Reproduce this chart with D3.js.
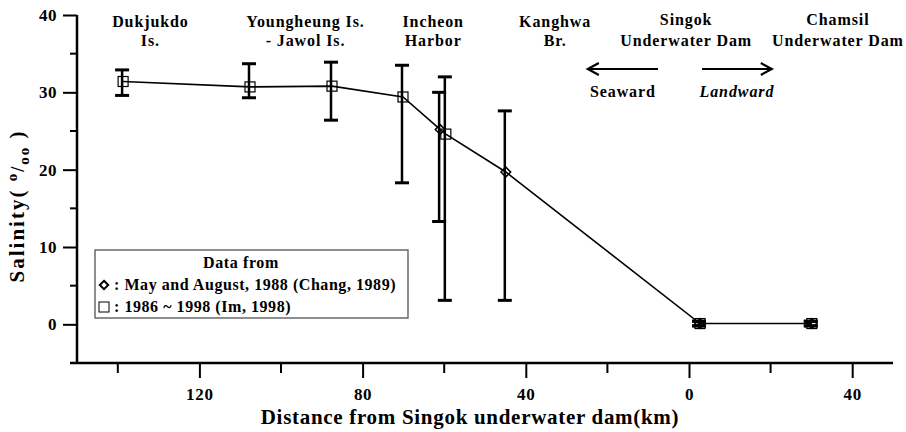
<!DOCTYPE html>
<html>
<head>
<meta charset="utf-8">
<script src="https://cdn.jsdelivr.net/npm/d3@7"></script>
<style>
  body { margin: 0; background: #fff; }
  svg text { font-family: "Liberation Serif", "Times New Roman", Times, "DejaVu Serif", serif !important; font-weight: bold; fill: #000; }
</style>
</head>
<body>
<div id="chart"></div>
<script>
// Im (1998) data, squares - distance seaward from Singok dam (km), negative = landward
var imDist = [138.7, 107.6, 87.5, 70.1, 59.6, -2.7, -30.1];
var imSal = [31.4, 30.7, 30.8, 29.4, 24.6, 0.1, 0.1];
var imHi = [32.9, 33.7, 33.9, 33.5, 32.0, 0.4, 0.4];
var imLo = [29.6, 29.3, 26.4, 18.3, 3.1, -0.2, -0.2];

// Chang (1989) data, diamonds
var changDist = [61.0, 44.9, -2.7, -30.1];
var changSal = [25.2, 19.7, 0.1, 0.1];
var changHi = [30.0, 27.6, 0.4, 0.4];
var changLo = [13.3, 3.1, -0.2, -0.2];

var yTicks = [0, 10, 20, 30, 40];
var yMinor = [-5, 5, 15, 25, 35];
var xTicks = [120, 80, 40, 0, -40];
var xMinor = [140, 100, 60, 20, -20];

// place names on top, with position (km)
var siteNames = [
  ["Dukjukdo", "Is."],
  ["Youngheung Is.", "- Jawol Is."],
  ["Incheon", "Harbor"],
  ["Kanghwa", "Br."],
  ["Singok", "Underwater Dam"],
  ["Chamsil", "Underwater Dam"]
];
var siteKm = [132, 94, 62.7, 32.8, 0.7, -36.5];

var width = 906, height = 432;
var svg = d3.select("#chart").append("svg").attr("width", width).attr("height", height);

var x = d3.scaleLinear().domain([150, -50]).range([77, 893]);
var y = d3.scaleLinear().domain([-5, 40]).range([363, 15]);

// axes
var yAxis = d3.axisLeft(y).tickValues(yTicks).tickSize(14).tickPadding(6).tickFormat(d3.format("d"));
var gy = svg.append("g").attr("transform", "translate(77,0)").call(yAxis);
gy.select(".domain").remove();
gy.selectAll(".tick line").attr("stroke-width", 2);
gy.selectAll(".tick text").style("font-size", "17px").style("letter-spacing", "0.5px");
gy.selectAll(".minor").data(yMinor).enter().append("line")
  .attr("x1", -7).attr("x2", 0).attr("y1", d => y(d)).attr("y2", d => y(d))
  .attr("stroke", "#000").attr("stroke-width", 2);
svg.append("line").attr("x1", 77).attr("x2", 77).attr("y1", 15).attr("y2", 364)
  .attr("stroke", "#000").attr("stroke-width", 2.5);

var xAxis = d3.axisBottom(x).tickValues(xTicks).tickSize(15).tickPadding(10).tickFormat(d => Math.abs(d));
var gx = svg.append("g").attr("transform", "translate(0,363)").call(xAxis);
gx.select(".domain").remove();
gx.selectAll(".tick line").attr("stroke-width", 2);
gx.selectAll(".tick text").style("font-size", "17px").style("letter-spacing", "0.7px");
gx.selectAll(".minor").data(xMinor).enter().append("line")
  .attr("x1", d => x(d)).attr("x2", d => x(d)).attr("y1", 0).attr("y2", 10)
  .attr("stroke", "#000").attr("stroke-width", 2);
svg.append("line").attr("x1", 70).attr("x2", 893).attr("y1", 363).attr("y2", 363)
  .attr("stroke", "#000").attr("stroke-width", 2.5);

// axis titles
svg.append("text").attr("x", 470).attr("y", 424).attr("text-anchor", "middle")
  .style("font-size", "21px").style("letter-spacing", "0.7px")
  .text("Distance from Singok underwater dam(km)");

var yt = svg.append("text").attr("transform", "translate(24,206) rotate(-90)").attr("text-anchor", "middle")
  .style("font-size", "21px").style("letter-spacing", "2px");
yt.append("tspan").text("Salinity( ");
yt.append("tspan").attr("dy", -7).style("font-size", "15px").text("o");
yt.append("tspan").attr("dy", 7).style("font-size", "18px").text("/");
yt.append("tspan").attr("dy", 5).style("font-size", "15px").text("oo");
yt.append("tspan").attr("dy", -5).text(" )");

// connecting line through all points
var pts = imDist.map((d, i) => [d, imSal[i]]).concat(changDist.map((d, i) => [d, changSal[i]]));
pts.sort((a, b) => b[0] - a[0]);
var line = d3.line().x(d => x(d[0])).y(d => y(d[1]));
svg.append("path").datum(pts).attr("d", line).attr("fill", "none")
  .attr("stroke", "#000").attr("stroke-width", 1.6);

// error bars
function errorBars(dist, hi, lo, dx) {
  var g = svg.append("g");
  dist.forEach(function (d, i) {
    var cx = x(d) + dx;
    g.append("line").attr("x1", cx).attr("x2", cx).attr("y1", y(hi[i])).attr("y2", y(lo[i]))
      .attr("stroke", "#000").attr("stroke-width", 2.5);
    [hi[i], lo[i]].forEach(function (v) {
      g.append("line").attr("x1", cx - 7).attr("x2", cx + 7).attr("y1", y(v)).attr("y2", y(v))
        .attr("stroke", "#000").attr("stroke-width", 3);
    });
  });
}
errorBars(imDist, imHi, imLo, -1);
errorBars(changDist, changHi, changLo, -1);

// markers
svg.append("g").selectAll("rect").data(imDist).enter().append("rect")
  .attr("x", d => x(d) - 5).attr("y", (d, i) => y(imSal[i]) - 5)
  .attr("width", 10).attr("height", 10)
  .attr("fill", "none").attr("stroke", "#000").attr("stroke-width", 1.2);
var diamond = d3.symbol().type(d3.symbolDiamond2).size(60);
svg.append("g").selectAll("path").data(changDist).enter().append("path")
  .attr("d", diamond)
  .attr("transform", (d, i) => "translate(" + x(d) + "," + y(changSal[i]) + ")")
  .attr("fill", "none").attr("stroke", "#000").attr("stroke-width", 1.5);

// place names
siteNames.forEach(function (s, i) {
  var t = svg.append("text").attr("text-anchor", "middle").style("font-size", "16px").style("letter-spacing", "0.9px");
  t.append("tspan").attr("x", x(siteKm[i])).attr("y", i >= 4 ? 25 : 27).text(s[0]);
  t.append("tspan").attr("x", x(siteKm[i])).attr("y", 46).text(s[1]);
});

// seaward / landward arrows
var arrows = [[7.6, 24.8, "Seaward", "normal"], [-3.2, -20.3, "Landward", "italic"]];
arrows.forEach(function (a) {
  var x1 = x(a[0]), x2 = x(a[1]), ya = 69;
  var dir = x2 > x1 ? 1 : -1;
  svg.append("line").attr("x1", x1).attr("x2", x2).attr("y1", ya).attr("y2", ya)
    .attr("stroke", "#000").attr("stroke-width", 2.2);
  svg.append("path").attr("d", "M" + (x2 - dir * 11) + "," + (ya - 6) + "L" + x2 + "," + ya + "L" + (x2 - dir * 11) + "," + (ya + 6))
    .attr("fill", "none").attr("stroke", "#000").attr("stroke-width", 2.2);
  svg.append("text").attr("x", (x1 + x2) / 2).attr("y", 97).attr("text-anchor", "middle")
    .style("font-size", "16px").style("letter-spacing", "0.9px").style("font-style", a[3]).text(a[2]);
});

// legend
var lg = svg.append("g");
lg.append("rect").attr("x", 95).attr("y", 250).attr("width", 313).attr("height", 68)
  .attr("fill", "#fff").attr("stroke", "#444").attr("stroke-width", 1.2);
lg.append("text").attr("x", 241).attr("y", 268).attr("text-anchor", "middle")
  .style("font-size", "16px").style("letter-spacing", "0.6px").text("Data from");
lg.append("path").attr("d", d3.symbol().type(d3.symbolDiamond2).size(45))
  .attr("transform", "translate(104,285)").attr("fill", "none").attr("stroke", "#000").attr("stroke-width", 2);
lg.append("text").attr("x", 114).attr("y", 290).style("font-size", "16px").style("letter-spacing", "0.55px")
  .text(": May and August, 1988 (Chang, 1989)");
lg.append("rect").attr("x", 99).attr("y", 302).attr("width", 10).attr("height", 10)
  .attr("fill", "none").attr("stroke", "#000").attr("stroke-width", 1);
lg.append("text").attr("x", 114).attr("y", 312).style("font-size", "16px").style("letter-spacing", "0.55px")
  .text(": 1986 ~ 1998 (Im, 1998)");
</script>
</body>
</html>
